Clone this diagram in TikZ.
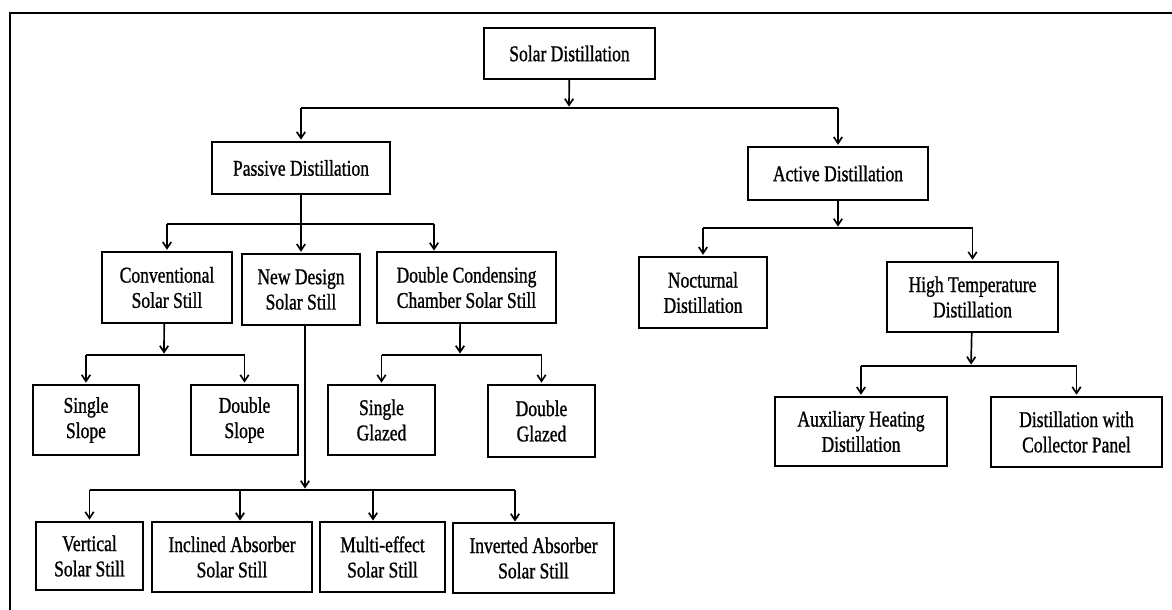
\documentclass[tikz,border=0pt]{standalone}
\usepackage{fontspec}
\setmainfont{Liberation Serif}[FakeStretch=0.78, FakeBold=1]
\usepackage{tikz}
\usetikzlibrary{arrows.meta}

\begin{document}
\begin{tikzpicture}[x=0.025cm, y=-0.025cm,
        box/.style={draw, line width=1.2pt, align=center, inner sep=0pt,
            font=\fontsize{16pt}{18pt}\selectfont},
        arr/.style={line width=1.2pt, -{Straight Barb[length=4.5pt,width=6pt]}, shorten >=1pt},
        bar/.style={line width=1.2pt}]
        \useasboundingbox (0,0) rectangle (1172,610);

        % Frame of the page
        \draw[line width=1.2pt] (10,610) -- (10,13) -- (1172,13);

        % Top box
        \node (solar) at (569.5,53.5) [box, minimum width=4.27cm, minimum height=1.27cm] {Solar Distillation};

        % Passive and active
        \node (passive) at (301,168) [box, minimum width=4.45cm, minimum height=1.3cm] {Passive Distillation};
        \node (active) at (838,173.5) [box, minimum width=4.5cm, minimum height=1.32cm] {Active Distillation};
        \coordinate (sbar) at (569,108);
        \draw[bar] (sbar -| passive) -- (sbar -| active);
        \draw[arr] (solar) -- (sbar);
        \draw[arr] (sbar -| passive) -- (passive);
        \draw[arr] (sbar -| active) -- (active);

        % Passive branch
        \node (conv) at (167,287.5) [box, minimum width=3.25cm, minimum height=1.77cm] {Conventional\\Solar Still};
        \node (newdes) at (301,289.5) [box, minimum width=2.95cm, minimum height=1.77cm] {New Design\\Solar Still};
        \node (dcc) at (466.5,287.5) [box, minimum width=4.47cm, minimum height=1.77cm] {Double Condensing\\Chamber Solar Still};
        \coordinate (pbar) at (301,224);
        \coordinate (dccin) at (434,252);
        \draw[bar] (pbar -| conv) -- (pbar -| dccin);
        \draw[bar] (passive) -- (pbar);
        \draw[arr] (pbar -| conv) -- (conv);
        \draw[arr] (pbar) -- (newdes);
        \draw[arr] (pbar -| dccin) -- (dccin);

        % Active branch
        \node (noct) at (703,292.5) [box, minimum width=3.2cm, minimum height=1.77cm] {Nocturnal\\Distillation};
        \node (hightemp) at (972.5,297) [box, minimum width=4.27cm, minimum height=1.75cm] {High Temperature\\Distillation};
        \coordinate (abar) at (838,228);
        \draw[bar] (abar -| noct) -- (abar -| hightemp);
        \draw[arr] (active) -- (abar);
        \draw[arr] (abar -| noct) -- (noct);
        \draw[arr] (abar -| hightemp) -- (hightemp);

        % Conventional still types
        \node (sslope) at (86,420) [box, minimum width=2.65cm, minimum height=1.75cm] {Single\\Slope};
        \node (dslope) at (244.5,420) [box, minimum width=2.67cm, minimum height=1.75cm] {Double\\Slope};
        \coordinate (cbar) at (164,355);
        \draw[bar] (cbar -| sslope) -- (cbar -| dslope);
        \draw[arr] ([xshift=-0.07cm]conv.south) -- (cbar);
        \draw[arr] (cbar -| sslope) -- (sslope);
        \draw[arr] (cbar -| dslope) -- (dslope);

        % Double condensing still types
        \node (sglazed) at (381.5,420) [box, minimum width=2.67cm, minimum height=1.75cm] {Single\\Glazed};
        \node (dglazed) at (541.5,421) [box, minimum width=2.67cm, minimum height=1.8cm] {Double\\Glazed};
        \coordinate (dbar) at (460,355);
        \draw[bar] (dbar -| sglazed) -- (dbar -| dglazed);
        \draw[arr] ([xshift=-0.16cm]dcc.south) -- (dbar);
        \draw[arr] (dbar -| sglazed) -- (sglazed);
        \draw[arr] (dbar -| dglazed) -- (dglazed);

        % New design still types
        \node (vert) at (89.5,556) [box, minimum width=2.67cm, minimum height=1.7cm] {Vertical\\Solar Still};
        \node (incl) at (232,557) [box, minimum width=4cm, minimum height=1.75cm] {Inclined Absorber\\Solar Still};
        \node (multi) at (382.5,557) [box, minimum width=3.12cm, minimum height=1.75cm] {Multi-effect\\Solar Still};
        \node (inv) at (533.5,558) [box, minimum width=4.02cm, minimum height=1.75cm] {Inverted Absorber\\Solar Still};
        \coordinate (nbar) at (305,490);
        \coordinate (inclin) at (240,522);
        \coordinate (multiin) at (373,522);
        \coordinate (invin) at (515,523);
        \draw[bar] (nbar -| vert) -- (nbar -| invin);
        \draw[arr] ([xshift=0.1cm]newdes.south) -- (nbar);
        \draw[arr] (nbar -| vert) -- (vert);
        \draw[arr] (nbar -| inclin) -- (inclin);
        \draw[arr] (nbar -| multiin) -- (multiin);
        \draw[arr] (nbar -| invin) -- (invin);

        % High temperature types
        \node (aux) at (861,431.5) [box, minimum width=4.3cm, minimum height=1.72cm] {Auxiliary Heating\\Distillation};
        \node (coll) at (1076.5,432) [box, minimum width=4.27cm, minimum height=1.75cm] {Distillation with\\Collector Panel};
        \coordinate (hbar) at (971,366);
        \draw[bar] (hbar -| aux) -- (hbar -| coll);
        \draw[arr] (hightemp) -- (hbar);
        \draw[arr] (hbar -| aux) -- (aux);
        \draw[arr] (hbar -| coll) -- (coll);
    \end{tikzpicture}
\end{document}
